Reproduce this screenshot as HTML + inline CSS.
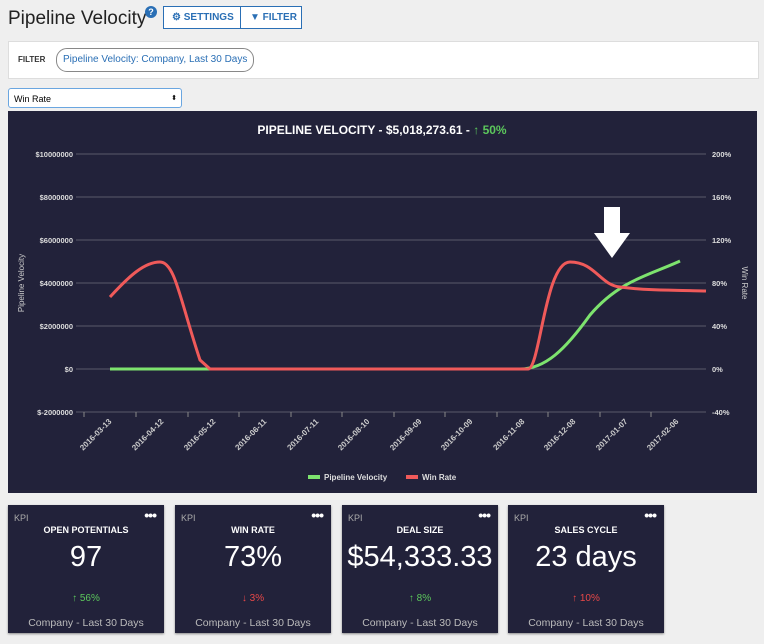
<!DOCTYPE html><html><head><style>
body{margin:0;width:764px;height:644px;background:#efefef;font-family:"Liberation Sans",sans-serif;position:relative;overflow:hidden}
.a{position:absolute}
.card{position:absolute;top:505px;width:156px;height:128px;background:#22223a;color:#fff;box-shadow:0 1px 2px #888}
.card .k{position:absolute;left:6px;top:8px;font-size:9px;color:#aaa}
.card .d{position:absolute;right:8px;top:2px;font-size:14px;font-weight:bold;letter-spacing:-1px}
.card .t{position:absolute;top:20px;width:100%;text-align:center;font-size:9px;font-weight:bold}
.card .v{position:absolute;top:36px;width:100%;text-align:center;font-size:29px}
.card .c{position:absolute;top:88px;width:100%;text-align:center;font-size:10px}
.card .f{position:absolute;top:112px;width:100%;text-align:center;font-size:10.5px;color:#bbb}
</style></head><body>
<div class="a" style="left:8px;top:8px;font-size:19px;color:#222">Pipeline Velocity</div>
<div class="a" style="left:145px;top:6px;width:12px;height:12px;border-radius:50%;background:#2a6fb5;color:#fff;font-size:9px;text-align:center;line-height:12px;font-weight:bold">?</div>
<div class="a" style="left:163px;top:6px;width:137px;height:21px;border:1px solid #2a6fb5;background:#fff;font-size:10px;color:#2a6fb5;font-weight:bold;line-height:21px"><span style="position:absolute;left:8px">⚙ SETTINGS</span><span style="position:absolute;left:76px;top:0;height:21px;border-left:1px solid #2a6fb5"></span><span style="position:absolute;left:86px">▼ FILTER</span></div>
<div class="a" style="left:8px;top:41px;width:749px;height:36px;background:#fff;border:1px solid #ddd"></div>
<div class="a" style="left:18px;top:55px;font-size:8px;color:#333;font-weight:bold">FILTER</div>
<div class="a" style="left:56px;top:48px;height:22px;padding:0 6px;border:1px solid #888;border-radius:11px;font-size:10px;color:#2a6fb5;line-height:22px;background:#fff">Pipeline Velocity: Company, Last 30 Days</div>
<div class="a" style="left:8px;top:88px;height:20px;border:1px solid #6aa6e0;border-radius:3px;background:#fff;font-size:9px;line-height:20px;padding-left:5px;box-sizing:border-box;width:174px">Win Rate<span style="position:absolute;right:4px;font-size:7px">⬍</span></div>
<svg class="a" style="left:8px;top:111px" width="749" height="382" viewBox="8 111 749 382">
<rect x="8" y="111" width="749" height="382" fill="#22223a"/>
<text x="382" y="134" fill="#fff" font-size="12" font-weight="bold" text-anchor="middle">PIPELINE VELOCITY - $5,018,273.61 - <tspan fill="#5cc85c">↑ 50%</tspan></text>
<g stroke="#5a5a6a" stroke-width="1">
<line x1="76" y1="154" x2="706" y2="154"/><line x1="76" y1="197" x2="706" y2="197"/><line x1="76" y1="240" x2="706" y2="240"/><line x1="76" y1="283" x2="706" y2="283"/><line x1="76" y1="326" x2="706" y2="326"/><line x1="76" y1="369" x2="706" y2="369"/><line x1="76" y1="412" x2="706" y2="412"/>
</g>
<g fill="#ddd" font-size="7.5" font-weight="bold" text-anchor="end">
<text x="73" y="157">$10000000</text><text x="73" y="200">$8000000</text><text x="73" y="243">$6000000</text><text x="73" y="286">$4000000</text><text x="73" y="329">$2000000</text><text x="73" y="372">$0</text><text x="73" y="415">$-2000000</text>
</g>
<g fill="#ddd" font-size="7.5" font-weight="bold">
<text x="712" y="157">200%</text><text x="712" y="200">160%</text><text x="712" y="243">120%</text><text x="712" y="286">80%</text><text x="712" y="329">40%</text><text x="712" y="372">0%</text><text x="712" y="415">-40%</text>
</g>
<text transform="translate(24,283) rotate(-90)" fill="#ccc" font-size="8" text-anchor="middle">Pipeline Velocity</text>
<text transform="translate(742,283) rotate(90)" fill="#ccc" font-size="8" text-anchor="middle">Win Rate</text>
<g stroke="#888"><line x1="84" y1="412" x2="84" y2="417"/><line x1="136" y1="412" x2="136" y2="417"/><line x1="188" y1="412" x2="188" y2="417"/><line x1="239" y1="412" x2="239" y2="417"/><line x1="291" y1="412" x2="291" y2="417"/><line x1="342" y1="412" x2="342" y2="417"/><line x1="394" y1="412" x2="394" y2="417"/><line x1="445" y1="412" x2="445" y2="417"/><line x1="497" y1="412" x2="497" y2="417"/><line x1="548" y1="412" x2="548" y2="417"/><line x1="600" y1="412" x2="600" y2="417"/><line x1="651" y1="412" x2="651" y2="417"/></g>
<g fill="#ccc" font-size="8" font-weight="bold" text-anchor="end">
<text transform="translate(112,422) rotate(-45)">2016-03-13</text><text transform="translate(164,422) rotate(-45)">2016-04-12</text><text transform="translate(216,422) rotate(-45)">2016-05-12</text><text transform="translate(267,422) rotate(-45)">2016-06-11</text><text transform="translate(319,422) rotate(-45)">2016-07-11</text><text transform="translate(370,422) rotate(-45)">2016-08-10</text><text transform="translate(422,422) rotate(-45)">2016-09-09</text><text transform="translate(473,422) rotate(-45)">2016-10-09</text><text transform="translate(525,422) rotate(-45)">2016-11-08</text><text transform="translate(576,422) rotate(-45)">2016-12-08</text><text transform="translate(628,422) rotate(-45)">2017-01-07</text><text transform="translate(679,422) rotate(-45)">2017-02-06</text>
</g>
<path d="M110 369 L520 369 C545 369 565 350 590 315 C620 280 650 275 680 261" stroke="#7de36e" stroke-width="3" fill="none"/>
<path d="M110 297 C130 275 145 262 160 262 C175 262 180 300 200 360 L210 369 L528 369 C540 369 545 262 570 262 C595 262 600 285 620 287 C650 291 680 290 706 291" stroke="#f05a5a" stroke-width="3" fill="none"/>
<path d="M604 207 H620 V233 H630 L612 258 L594 233 H604 Z" fill="#fff"/>
<rect x="308" y="475" width="12" height="4" fill="#7de36e"/><text x="324" y="480" fill="#ddd" font-size="8" font-weight="bold">Pipeline Velocity</text>
<rect x="406" y="475" width="12" height="4" fill="#f05a5a"/><text x="422" y="480" fill="#ddd" font-size="8" font-weight="bold">Win Rate</text>
</svg>
<div class="card" style="left:8px"><div class="k">KPI</div><div class="d">•••</div><div class="t">OPEN POTENTIALS</div><div class="v">97</div><div class="c" style="color:#5cc85c">↑ 56%</div><div class="f">Company - Last 30 Days</div></div>
<div class="card" style="left:175px"><div class="k">KPI</div><div class="d">•••</div><div class="t">WIN RATE</div><div class="v">73%</div><div class="c" style="color:#e84848">↓ 3%</div><div class="f">Company - Last 30 Days</div></div>
<div class="card" style="left:342px"><div class="k">KPI</div><div class="d">•••</div><div class="t">DEAL SIZE</div><div class="v">$54,333.33</div><div class="c" style="color:#5cc85c">↑ 8%</div><div class="f">Company - Last 30 Days</div></div>
<div class="card" style="left:508px"><div class="k">KPI</div><div class="d">•••</div><div class="t">SALES CYCLE</div><div class="v">23 days</div><div class="c" style="color:#e84848">↑ 10%</div><div class="f">Company - Last 30 Days</div></div>
</body></html>
